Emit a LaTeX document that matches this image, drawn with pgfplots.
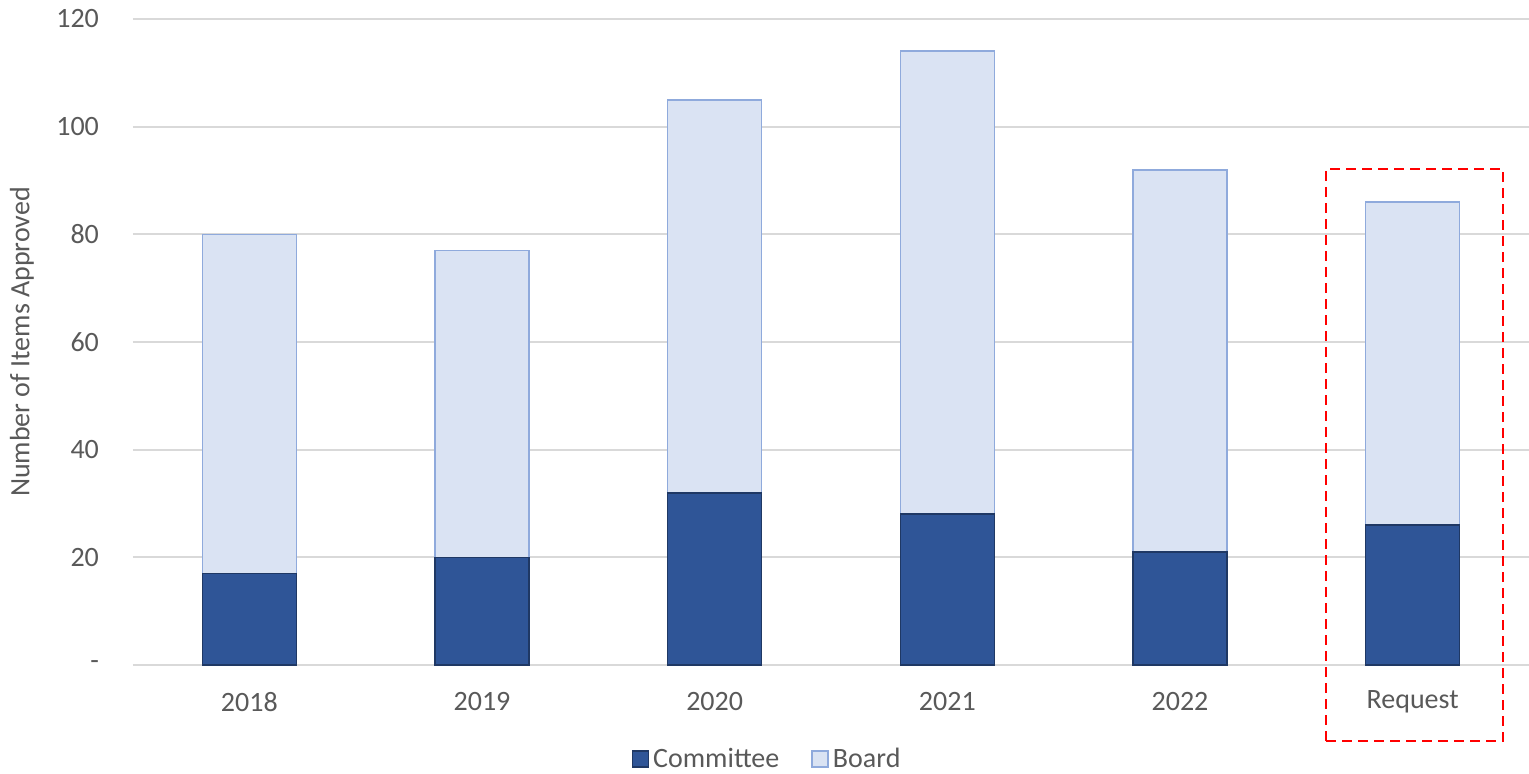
\documentclass[border=0pt]{standalone}
\usepackage{pgfplots}
\pgfplotsset{compat=1.18}
\usepackage{fontspec}
\setmainfont{Carlito}
\definecolor{comfill}{HTML}{2F5597}
\definecolor{comdraw}{HTML}{1F3864}
\definecolor{boardfill}{HTML}{DAE3F3}
\definecolor{boarddraw}{HTML}{8FAADC}
\definecolor{txt}{HTML}{595959}
\definecolor{grd}{HTML}{D9D9D9}
\begin{document}
\begin{tikzpicture}
\begin{axis}[
  at={(0,0)}, anchor=south west,
  scale only axis,
  width=698pt, height=323pt,
  ybar stacked,
  bar width=47pt,
  xmin=-0.5, xmax=5.5,
  ymin=0, ymax=120,
  xtick={0,1,2,3,4,5},
  xticklabels={2018,2019,2020,2021,2022,Request},
  ytick={0,20,40,60,80,100,120},
  yticklabels={-,20,40,60,80,100,120},
  /pgf/number format/assume math mode=true,
  major tick length=0pt,
  ymajorgrids,
  grid style={grd, line width=1pt},
  axis line style={draw=none},
  tick style={draw=none},
  tick label style={font=\fontsize{14}{16}\selectfont, text=txt},
  yticklabel style={anchor=east, xshift=-13.5pt},
  xticklabel style={anchor=center, yshift=-18.5pt},
  ylabel={Number of Items Approved},
  every axis y label/.style={at={(axis description cs:-0.0795,0.5)}, anchor=center, rotate=90, font=\fontsize{14}{16}\selectfont, text=txt},
  clip=false,
  legend style={draw=none, at={(317.5pt,-47pt)}, anchor=center, font=\fontsize{14}{16}\selectfont, text=txt, legend columns=2, /tikz/every even column/.append style={column sep=14pt}},
  legend image code/.code={\draw[#1] (0pt,-4pt) rectangle (8pt,4pt);},
]
\addplot[fill=comfill, draw=comdraw, line width=0.8pt] coordinates {(0,17) (1,20) (2,32) (3,28) (4,21) (5,26)};
\addplot[fill=boardfill, draw=boarddraw, line width=0.8pt] coordinates {(0,63) (1,57) (2,73) (3,86) (4,71) (5,60)};
\legend{Committee, Board}
\draw[red, line width=1.25pt, dash pattern=on 5pt off 3pt] (axis cs:4.628,-14.1) rectangle (axis cs:5.389,92.1);
\end{axis}
\pgfresetboundingbox
\path (-66.5pt,-54.5pt) rectangle (698pt,332.5pt);
\end{tikzpicture}
\end{document}
